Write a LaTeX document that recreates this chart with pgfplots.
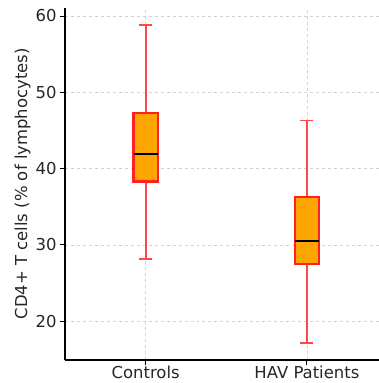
\documentclass[border=0pt]{standalone}
\usepackage{pgfplots}
\pgfplotsset{compat=1.18}
\usepackage{fontspec}
\setmainfont{DejaVu Sans}
\definecolor{boxfill}{HTML}{FFA500}
\definecolor{boxedge}{HTML}{FF2020}
\definecolor{whisk}{HTML}{FF4848}
\definecolor{txt}{HTML}{262626}
\begin{document}
\begin{tikzpicture}
\begin{axis}[
  at={(0,0)}, anchor=south west,
  scale only axis,
  width=314bp, height=352.4bp,
  xmin=0.5, xmax=2.447,
  ymin=14.9, ymax=61.1,
  axis lines*=left,
  axis line style={black, line width=1.1pt},
  xtick={1,2}, xticklabels={Controls, HAV Patients},
  ytick={20,30,40,50,60},
  tick align=outside,
  major tick length=5bp,
  tick style={black, line width=0.9pt},
  grid=major,
  major grid style={dashed, gray!35, line width=0.6pt},
  /pgf/number format/assume math mode=true,
  tick label style={font=\fontsize{16.5}{19}\selectfont, text=txt},
  xticklabel style={yshift=3bp},
  ylabel={CD4+ T cells (\% of lymphocytes)},
  every axis y label/.style={at={(axis description cs:-0.135,0.5)}, anchor=center, rotate=90, font=\fontsize{16.5}{19}\selectfont, text=txt},
  unbounded coords=jump,
]
% whiskers and caps (Controls: 28.1 / 58.8; HAV Patients: 17.1 / 46.3)
\addplot[draw=whisk, line width=1.9pt, mark=none] coordinates {
 (1,28.1) (1,38.3) (nan,nan) (1,47.3) (1,58.8) (nan,nan)
 (0.96,28.1) (1.04,28.1) (nan,nan) (0.96,58.8) (1.04,58.8) (nan,nan)
 (2,17.1) (2,27.5) (nan,nan) (2,36.3) (2,46.3) (nan,nan)
 (1.96,17.1) (2.04,17.1) (nan,nan) (1.96,46.3) (2.04,46.3)
};
% boxes (quartiles)
\addplot[fill=boxfill, draw=boxedge, line width=2.2pt, mark=none] coordinates {(0.925,38.3) (1.075,38.3) (1.075,47.3) (0.925,47.3)} -- cycle;
\addplot[fill=boxfill, draw=boxedge, line width=2.2pt, mark=none] coordinates {(1.925,27.5) (2.075,27.5) (2.075,36.3) (1.925,36.3)} -- cycle;
% medians
\addplot[draw=black, line width=1.8pt, mark=none] coordinates {
 (0.925,41.95) (1.075,41.95) (nan,nan) (1.925,30.55) (2.075,30.55)
};
\end{axis}
\pgfresetboundingbox
\path[use as bounding box] (-65bp,-23bp) rectangle (314bp,360bp);
\end{tikzpicture}
\end{document}
